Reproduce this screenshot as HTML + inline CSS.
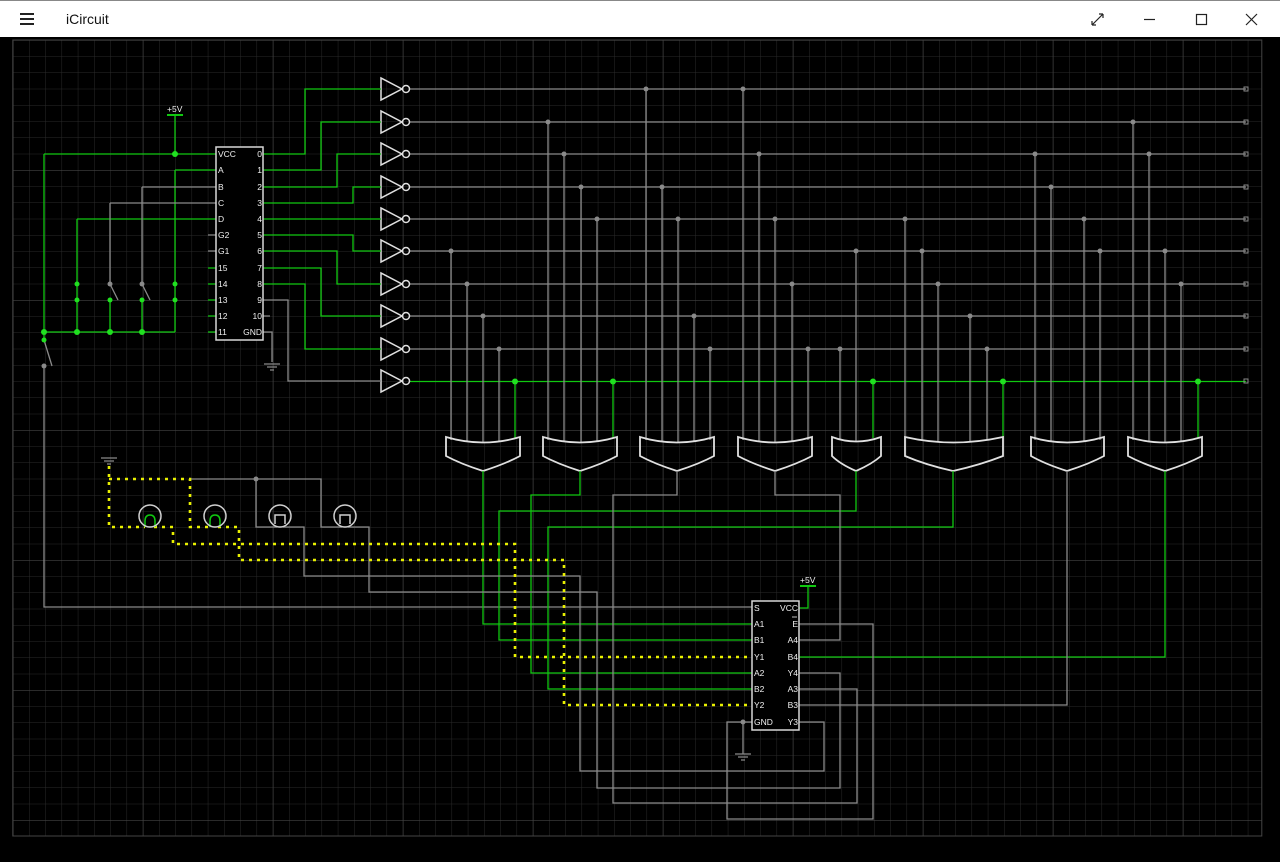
<!DOCTYPE html>
<html><head><meta charset="utf-8"><style>
html,body{margin:0;padding:0;background:#000;width:1280px;height:862px;overflow:hidden}
#title{position:absolute;left:0;top:0;width:1280px;height:37px;background:#fff;border-top:1px solid #888;box-sizing:border-box;font-family:"Liberation Sans",sans-serif}
svg{position:absolute;left:0;top:0}
</style></head><body>
<div id="title">
<div style="position:absolute;left:20px;top:12px;width:14px;height:2px;background:#222;box-shadow:0 5px 0 #222,0 10px 0 #222"></div>
<div style="position:absolute;left:66px;top:10px;font-size:14px;color:#111">iCircuit</div>
<svg width="1280" height="37" style="position:absolute;left:0;top:0">
<g stroke="#222" stroke-width="1.2" fill="none">
<path d="M1092 24 L1103 13 M1092 24 h4 M1092 24 v-4 M1103 13 h-4 M1103 13 v4"/>
<path d="M1144 18.5 h11"/>
<rect x="1196.5" y="13.5" width="10" height="10"/>
<path d="M1246 13 l11 11 M1257 13 l-11 11"/>
</g></svg>
</div>
<svg width="1280" height="862" viewBox="0 0 1280 862" style="top:0">
<defs>
<pattern id="mn" x="12.8" y="40" width="16.25" height="16.25" patternUnits="userSpaceOnUse">
<path d="M0 0 H16.25 M0 0 V16.25" stroke="#2a2a2a" stroke-width="1" fill="none"/></pattern>
<pattern id="mj" x="12.8" y="40" width="130" height="130" patternUnits="userSpaceOnUse">
<path d="M0 0 H130 M0 0 V130" stroke="#444" stroke-width="1.2" fill="none"/></pattern>
</defs>
<rect x="0" y="37" width="1280" height="825" fill="#000"/>
<rect x="12.8" y="40" width="1249" height="796" fill="url(#mn)"/>
<rect x="12.8" y="40" width="1249" height="796" fill="url(#mj)"/>
<rect x="12.8" y="40" width="1249" height="796" fill="none" stroke="#444"/>

<g fill="none" stroke-width="1.3">
<g stroke="#8a8a8a">
<path d="M410 89H1246M410 122H1246M410 154H1246M410 187H1246M410 219H1246M410 251H1246M410 284H1246M410 316H1246M410 349H1246"/>
</g>
<path d="M410 381.5H1246" stroke="#10c810"/>
<g stroke="#8a8a8a" stroke-width="1">
<rect x="1244" y="87" width="4" height="4"/><rect x="1244" y="120" width="4" height="4"/><rect x="1244" y="152" width="4" height="4"/><rect x="1244" y="185" width="4" height="4"/><rect x="1244" y="217" width="4" height="4"/><rect x="1244" y="249" width="4" height="4"/><rect x="1244" y="282" width="4" height="4"/><rect x="1244" y="314" width="4" height="4"/><rect x="1244" y="347" width="4" height="4"/><rect x="1244" y="379" width="4" height="4"/>
</g>
<g stroke="#8a8a8a">
<path d="M451 251V440M467 284V441M483 316V442M499 349V441"/>
<path d="M548 122V440M564 154V441M581 187V442M597 219V441"/>
<path d="M646 89V440M662 187V441M678 219V442M694 316V441M710 349V440"/>
<path d="M743 89V440M759 154V441M775 219V442M792 284V441M808 349V440"/>
<path d="M840 349V439M856 251V441"/>
<path d="M905 219V439M922 251V440M938 284V441M970 316V441M987 349V440"/>
<path d="M1035 154V440M1051 187V441M1084 219V441M1100 251V440"/>
<path d="M1133 122V440M1149 154V441M1165 251V442M1181 284V441"/>
</g>
<g stroke="#10c810">
<path d="M515 381V438M613 381V438M873 381V438M1003 381V438M1198 381V438"/>
</g>
<g stroke="#e0e0e0" stroke-width="1.8">
<path d="M446 437Q483 448 520 437V456Q505 464 483 471Q461 464 446 456Z"/>
<path d="M543 437Q580 448 617 437V456Q602 464 580 471Q558 464 543 456Z"/>
<path d="M640 437Q677 448 714 437V456Q699 464 677 471Q655 464 640 456Z"/>
<path d="M738 437Q775 448 812 437V456Q797 464 775 471Q753 464 738 456Z"/>
<path d="M832 437Q856 446 881 437V456Q872 464 856 471Q840 464 832 456Z"/>
<path d="M905 437Q953 448 1003 437V456Q980 465 953 471Q926 465 905 456Z"/>
<path d="M1031 437Q1067 448 1104 437V456Q1089 464 1067 471Q1045 464 1031 456Z"/>
<path d="M1128 437Q1165 448 1202 437V456Q1187 464 1165 471Q1143 464 1128 456Z"/>
</g>
<g stroke="#e0e0e0" stroke-width="1.5">
<path d="M381 78V100L402 89Z"/><circle cx="406" cy="89" r="3.5"/>
<path d="M381 111V133L402 122Z"/><circle cx="406" cy="122" r="3.5"/>
<path d="M381 143V165L402 154Z"/><circle cx="406" cy="154" r="3.5"/>
<path d="M381 176V198L402 187Z"/><circle cx="406" cy="187" r="3.5"/>
<path d="M381 208V230L402 219Z"/><circle cx="406" cy="219" r="3.5"/>
<path d="M381 240V262L402 251Z"/><circle cx="406" cy="251" r="3.5"/>
<path d="M381 273V295L402 284Z"/><circle cx="406" cy="284" r="3.5"/>
<path d="M381 305V327L402 316Z"/><circle cx="406" cy="316" r="3.5"/>
<path d="M381 338V360L402 349Z"/><circle cx="406" cy="349" r="3.5"/>
<path d="M381 370V392L402 381Z"/><circle cx="406" cy="381" r="3.5"/>
</g>
<g stroke="#10c810">
<path d="M263 154H305V89H381M263 170H321V122H381M263 187H337V154H381M263 203H353V187H381M263 219H381M263 235H353V251H381M263 251H337V284H381M263 268H321V316H381M263 284H305V349H381"/>
</g>
<path d="M263 300H288V381H381" stroke="#8a8a8a"/>
<path d="M263 316H270M263 332H272V362" stroke="#8a8a8a"/>
<path d="M264 364h16M267 367h10M270 370h4" stroke="#8a8a8a"/>
<g stroke="#10c810">
<path d="M175 115V154M44 154H216M44 154V332M44 332H175M175 170H216M175 170V332M77 219H216M77 219V332M110 300V332M142 300V332"/>
<path d="M208 268h8M208 284h8M208 300h8M208 316h8M208 332h8"/>
</g>
<path d="M167 115h16" stroke="#10c810" stroke-width="2"/>
<g stroke="#8a8a8a">
<path d="M142 187H216M142 187V284M110 203H216M110 203V284M110 284L118 300M142 284L150 300"/>
<path d="M44 340L52 366M44 366V607H752M208 235h8M208 251h8"/>
</g>
<path d="M44 332V340" stroke="#10c810"/>
<rect x="216" y="147" width="47" height="193" fill="#000" stroke="#d8d8d8" stroke-width="1.5"/>

<g stroke="#10c810">
<path d="M483 471V624H752"/>
<path d="M580 471V495H531V673H752"/>
<path d="M856 471V511H499V640H752"/>
<path d="M953 471V527H548V689H752"/>
<path d="M1165 471V657H799"/>
<path d="M808 586V608H799"/>
</g>
<path d="M800 586h16" stroke="#10c810" stroke-width="2"/>
<g stroke="#8a8a8a">
<path d="M677 471V495H613V803H857V689H799"/>
<path d="M775 471V495H840V640H799"/>
<path d="M1067 471V705H799"/>
<path d="M799 624H873V819H727V722H752"/>
<path d="M743 722V754M735 754h16M738 757h10M741 760h4"/>
<path d="M799 673H840V788H597V592H369V527H348"/>
<path d="M799 722H824V771H580V576H304V527H283"/>
<path d="M190 479H321V527H342M256 479V527H277"/>
<path d="M101 458h16M104 461h10M107 464h4"/>
</g>
<g stroke="#e8f000" stroke-width="2.6" stroke-dasharray="3 5">
<path d="M109 466V527H145M109 479H190V527H210"/>
<path d="M154 527H173V544H515V657H752"/>
<path d="M218 527H239V560H564V705H752"/>
</g>
<path d="M145 527V521Q145 515 150 515Q155 515 155 521V527M210 527V521Q210 515 215 515Q220 515 220 521V527" stroke="#10c810" stroke-width="1.5"/>
<g stroke="#d0d0d0" stroke-width="1.5">
<circle cx="150" cy="516" r="11"/><circle cx="215" cy="516" r="11"/><circle cx="280" cy="516" r="11"/><circle cx="345" cy="516" r="11"/>
<path d="M275 524V515H285V524M340 524V515H350V524"/>
</g>
<rect x="752" y="601" width="47" height="129" fill="#000" stroke="#d8d8d8" stroke-width="1.5"/>
</g>
<g fill="#8a8a8a">
<circle cx="451" cy="251" r="2.5"/><circle cx="467" cy="284" r="2.5"/><circle cx="483" cy="316" r="2.5"/><circle cx="499" cy="349" r="2.5"/>
<circle cx="548" cy="122" r="2.5"/><circle cx="564" cy="154" r="2.5"/><circle cx="581" cy="187" r="2.5"/><circle cx="597" cy="219" r="2.5"/>
<circle cx="646" cy="89" r="2.5"/><circle cx="662" cy="187" r="2.5"/><circle cx="678" cy="219" r="2.5"/><circle cx="694" cy="316" r="2.5"/><circle cx="710" cy="349" r="2.5"/>
<circle cx="743" cy="89" r="2.5"/><circle cx="759" cy="154" r="2.5"/><circle cx="775" cy="219" r="2.5"/><circle cx="792" cy="284" r="2.5"/><circle cx="808" cy="349" r="2.5"/>
<circle cx="840" cy="349" r="2.5"/><circle cx="856" cy="251" r="2.5"/>
<circle cx="905" cy="219" r="2.5"/><circle cx="922" cy="251" r="2.5"/><circle cx="938" cy="284" r="2.5"/><circle cx="970" cy="316" r="2.5"/><circle cx="987" cy="349" r="2.5"/>
<circle cx="1035" cy="154" r="2.5"/><circle cx="1051" cy="187" r="2.5"/><circle cx="1084" cy="219" r="2.5"/><circle cx="1100" cy="251" r="2.5"/>
<circle cx="1133" cy="122" r="2.5"/><circle cx="1149" cy="154" r="2.5"/><circle cx="1165" cy="251" r="2.5"/><circle cx="1181" cy="284" r="2.5"/>
<circle cx="256" cy="479" r="2.5"/><circle cx="743" cy="722" r="2.5"/><circle cx="44" cy="366" r="2.5"/>
<circle cx="110" cy="284" r="2.5"/><circle cx="142" cy="284" r="2.5"/>
</g>
<g fill="#20e020">
<circle cx="515" cy="381.5" r="3"/><circle cx="613" cy="381.5" r="3"/><circle cx="873" cy="381.5" r="3"/><circle cx="1003" cy="381.5" r="3"/><circle cx="1198" cy="381.5" r="3"/>
<circle cx="175" cy="154" r="3"/><circle cx="44" cy="332" r="3"/><circle cx="77" cy="332" r="3"/><circle cx="110" cy="332" r="3"/><circle cx="142" cy="332" r="3"/><circle cx="44" cy="340" r="2.5"/>
<circle cx="77" cy="284" r="2.5"/><circle cx="77" cy="300" r="2.5"/><circle cx="110" cy="300" r="2.5"/><circle cx="142" cy="300" r="2.5"/><circle cx="175" cy="284" r="2.5"/><circle cx="175" cy="300" r="2.5"/>
</g>
<g font-family="Liberation Sans, sans-serif" font-size="8.5" fill="#f0f0f0">
<text x="167" y="112">+5V</text>
<text x="800" y="583">+5V</text>
<g>
<text x="218" y="157">VCC</text><text x="218" y="173">A</text><text x="218" y="190">B</text><text x="218" y="206">C</text><text x="218" y="222">D</text><text x="218" y="238">G2</text><text x="218" y="254">G1</text><text x="218" y="271">15</text><text x="218" y="287">14</text><text x="218" y="303">13</text><text x="218" y="319">12</text><text x="218" y="335">11</text>
</g>
<g text-anchor="end">
<text x="262" y="157">0</text><text x="262" y="173">1</text><text x="262" y="190">2</text><text x="262" y="206">3</text><text x="262" y="222">4</text><text x="262" y="238">5</text><text x="262" y="254">6</text><text x="262" y="271">7</text><text x="262" y="287">8</text><text x="262" y="303">9</text><text x="262" y="319">10</text><text x="262" y="335">GND</text>
</g>
<g>
<text x="754" y="611">S</text><text x="754" y="627">A1</text><text x="754" y="643">B1</text><text x="754" y="660">Y1</text><text x="754" y="676">A2</text><text x="754" y="692">B2</text><text x="754" y="708">Y2</text><text x="754" y="725">GND</text>
</g>
<g text-anchor="end">
<text x="798" y="611">VCC</text><text x="798" y="627">E</text><text x="798" y="643">A4</text><text x="798" y="660">B4</text><text x="798" y="676">Y4</text><text x="798" y="692">A3</text><text x="798" y="708">B3</text><text x="798" y="725">Y3</text>
</g>
</g>
<path d="M792 617h5" stroke="#f0f0f0" stroke-width="0.8"/>
</svg>
</body></html>
